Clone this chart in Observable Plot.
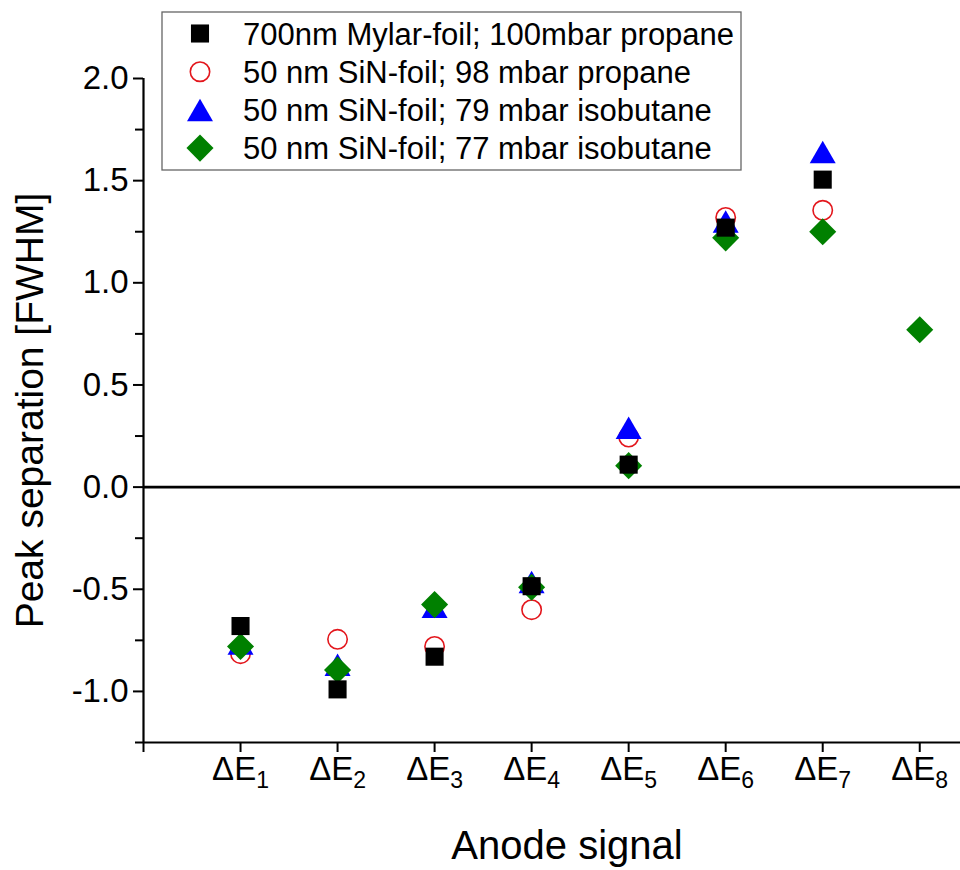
<!DOCTYPE html>
<html>
<head>
<meta charset="utf-8">
<script src="https://cdn.jsdelivr.net/npm/d3@7"></script>
<script src="https://cdn.jsdelivr.net/npm/@observablehq/plot@0.6"></script>
<style>
  body { margin: 0; background: #fff; }
  #chart { width: 960px; height: 870px; }
</style>
</head>
<body>
<div id="chart"></div>
<script>
// ---- data ----
const signals = [1, 2, 3, 4, 5, 6, 7, 8];               // ΔE index
const seriesNames = [
  "700nm Mylar-foil; 100mbar propane",
  "50 nm SiN-foil; 98 mbar propane",
  "50 nm SiN-foil; 79 mbar isobutane",
  "50 nm SiN-foil; 77 mbar isobutane"
];
const mylar100Propane = [-0.68, -0.99, -0.83, -0.485, 0.11, 1.27, 1.505, null];
const sin98Propane    = [-0.815, -0.745, -0.78, -0.60, 0.245, 1.32, 1.355, null];
const sin79Isobutane  = [-0.765, -0.87, -0.585, -0.465, 0.29, 1.30, 1.64, null];
const sin77Isobutane  = [-0.78, -0.895, -0.575, -0.49, 0.105, 1.22, 1.25, 0.77];

const yMajorTicks = [-1, -0.5, 0, 0.5, 1, 1.5, 2];
const yMinorTicks = [-1.25, -0.75, -0.25, 0.25, 0.75, 1.25, 1.75];
const xTicks = [0, 1, 2, 3, 4, 5, 6, 7, 8];
const xTickLabels = ["", "1", "2", "3", "4", "5", "6", "7", "8"]; // subscripts of ΔE

const seriesValues = [mylar100Propane, sin98Propane, sin79Isobutane, sin77Isobutane];
const rows = [];
seriesValues.forEach((vals, si) => {
  vals.forEach((v, i) => { if (v != null) rows.push({series: seriesNames[si], signal: signals[i], value: v}); });
});
const of = (si) => rows.filter(r => r.series === seriesNames[si]);

const styles = [
  {symbol: "square",   r: 10.2, fill: "#000000", stroke: "none", dy: 0},
  {symbol: "circle",   r: 9.7,  fill: "none", stroke: "#e3161c", strokeWidth: 1.6, dy: 0},
  {symbol: "triangle", r: 9.65, fill: "#0000ff", stroke: "none", dy: 3.75},
  {symbol: "diamond2", r: 12.2, fill: "#008000", stroke: "none", dy: 0}
];
const dotMark = (si) => Plot.dot(of(si), {x: "signal", y: "value", ...styles[si]});

const FONT = "'Liberation Sans', Arial, Helvetica, sans-serif";

const plot = Plot.plot({
  width: 960,
  height: 870,
  marginLeft: 143,
  marginRight: 0,
  marginTop: 78,
  marginBottom: 128,
  style: {fontFamily: FONT, color: "#000", background: "#fff", overflow: "visible"},
  x: {type: "linear", domain: [0, 8.42]},
  y: {type: "linear", domain: [-1.25, 2]},
  marks: [
    Plot.ruleY([0], {stroke: "#000", strokeWidth: 2.8}),
    Plot.ruleX([0], {stroke: "#000", strokeWidth: 2.2}),
    Plot.ruleY([-1.25], {stroke: "#000", strokeWidth: 2.2}),
    Plot.axisY({ticks: yMajorTicks, tickSize: 10, tickPadding: 5, strokeWidth: 2,
      tickFormat: d => d.toFixed(1), fontSize: 33, label: null}),
    Plot.axisY({ticks: yMinorTicks, tickSize: 8, strokeWidth: 2, tickFormat: () => "", label: null}),
    Plot.axisX({ticks: xTicks, tickSize: 10, tickPadding: 4, strokeWidth: 2,
      tickFormat: d => xTickLabels[d] ? "ΔE" + xTickLabels[d] : "", fontSize: 33, label: null}),
    Plot.text(["Anode signal"], {frameAnchor: "bottom", dx: 15, dy: 116, fontSize: 40, fill: "#000"}),
    Plot.text(["Peak separation [FWHM]"], {frameAnchor: "left", textAnchor: "middle", dx: -113, rotate: -90, fontSize: 39, fill: "#000"}),
    dotMark(1),
    dotMark(2),
    dotMark(3),
    dotMark(0)
  ]
});

// subscripts on the x tick labels
d3.select(plot).selectAll('g[aria-label="x-axis tick label"] text').each(function() {
  const t = d3.select(this);
  const s = t.text();
  if (!s.startsWith("ΔE")) return;
  const sub = s.slice(2);
  t.text("ΔE");
  t.append("tspan").attr("font-size", 23).attr("dy", 8).text(sub);
});

// legend (inside the plot, top)
const svg = d3.select(plot);
const lg = svg.append("g").attr("font-family", FONT).attr("font-size", 31).attr("text-anchor", "start");
lg.append("rect").attr("x", 162).attr("y", 12).attr("width", 579).attr("height", 158)
  .attr("fill", "#fff").attr("stroke", "#666").attr("stroke-width", 1.3);
const symMap = {square: d3.symbolSquare, circle: d3.symbolCircle, triangle: d3.symbolTriangle, diamond2: d3.symbolDiamond2};
[0, 1, 2, 3].forEach((si, k) => {
  const cy = 33.5 + k * 38.2;
  const st = styles[si];
  lg.append("path")
    .attr("transform", `translate(200,${cy + st.dy})`)
    .attr("d", d3.symbol(symMap[st.symbol], Math.PI * st.r * st.r)())
    .attr("fill", st.fill).attr("stroke", st.stroke).attr("stroke-width", st.strokeWidth || 0);
  lg.append("text").attr("x", 243).attr("y", cy).attr("dy", "0.36em")
    .attr("text-anchor", "start").attr("fill", "#000").text(seriesNames[si]);
});

document.getElementById("chart").appendChild(plot);
</script>
</body>
</html>
